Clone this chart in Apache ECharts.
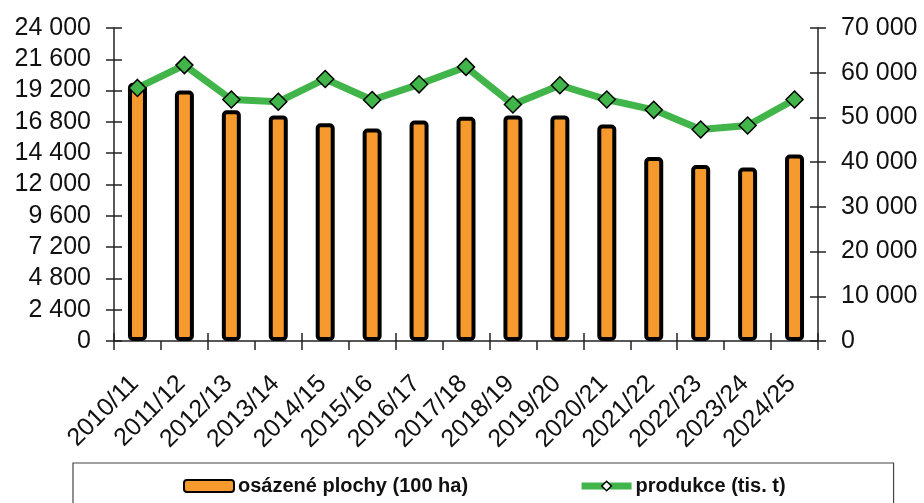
<!DOCTYPE html>
<html>
<head>
<meta charset="utf-8">
<script src="https://cdn.jsdelivr.net/npm/echarts@6/dist/echarts.min.js"></script>
<style>html,body{margin:0;padding:0;background:#fff;}#c{width:924px;height:503px;}</style>
</head>
<body>
<div id="c"></div>
<script>
const categories = ['2010/11','2011/12','2012/13','2013/14','2014/15','2015/16','2016/17','2017/18','2018/19','2019/20','2020/21','2021/22','2022/23','2023/24','2024/25'];
const plochy = [19800, 19200, 17700, 17300, 16700, 16300, 16900, 17200, 17300, 17300, 16600, 14100, 13500, 13300, 14300];
const produkce = [56600, 61700, 54000, 53500, 58600, 53900, 57400, 61300, 52900, 57200, 54000, 51700, 47300, 48200, 54000];
const seriesNames = ['osázené plochy (100 ha)', 'produkce (tis. t)'];
const leftAxis = {min: 0, max: 24000, interval: 2400};
const rightAxis = {min: 0, max: 70000, interval: 10000};

const FONT = 'Liberation Sans, Arial, sans-serif';
const fmt = v => String(v).replace(/\B(?=(\d{3})+(?!\d))/g, ' ');
const lineCol = '#222';

const chart = echarts.init(document.getElementById('c'));
chart.setOption({
  animation: false,
  backgroundColor: '#fff',
  grid: {left: 114, right: 106, top: 28, bottom: 162, containLabel: false},
  legend: {
    data: [
      {name: seriesNames[0]},
      {name: seriesNames[1], lineStyle: {width: 7}, itemStyle: {color: '#fff', borderColor: '#000', borderWidth: 1.5}}
    ],
    left: 73,
    top: 463,
    padding: [13, 108, 40, 110],
    itemGap: 110,
    itemWidth: 50,
    itemHeight: 12,
    borderColor: '#444',
    borderWidth: 1.2,
    textStyle: {fontFamily: FONT, fontSize: 20, fontWeight: 'bold', color: '#111', padding: [0, 0, 0, -1]}
  },
  xAxis: [
    {
      type: 'category', data: categories, position: 'bottom', boundaryGap: true,
      axisLine: {lineStyle: {color: lineCol, width: 1.5}},
      axisTick: {show: true, length: 9, lineStyle: {color: lineCol, width: 1.5}},
      axisLabel: {rotate: 45, interval: 0, margin: 36, padding: [0, 4, 0, 0], fontFamily: FONT, fontSize: 25, color: '#111'}
    },
    {
      type: 'category', data: categories, position: 'bottom', boundaryGap: true,
      axisLine: {show: false},
      axisTick: {show: true, inside: true, length: 8, lineStyle: {color: lineCol, width: 1.5}},
      axisLabel: {show: false}
    }
  ],
  yAxis: [
    {
      type: 'value', position: 'left', min: leftAxis.min, max: leftAxis.max, interval: leftAxis.interval,
      splitLine: {show: false},
      axisLine: {show: true, lineStyle: {color: lineCol, width: 1.5}},
      axisTick: {show: true, length: 8, lineStyle: {color: lineCol, width: 1.5}},
      axisLabel: {formatter: fmt, margin: 23, fontFamily: FONT, fontSize: 25, color: '#111'}
    },
    {
      type: 'value', position: 'right', min: rightAxis.min, max: rightAxis.max, interval: rightAxis.interval,
      splitLine: {show: false},
      axisLine: {show: true, lineStyle: {color: lineCol, width: 1.5}},
      axisTick: {show: true, length: 8, lineStyle: {color: lineCol, width: 1.5}},
      axisLabel: {formatter: fmt, margin: 23, fontFamily: FONT, fontSize: 25, color: '#111'}
    },
    {
      type: 'value', position: 'left', min: leftAxis.min, max: leftAxis.max, interval: leftAxis.interval,
      splitLine: {show: false}, axisLine: {show: false}, axisLabel: {show: false},
      axisTick: {show: true, inside: true, length: 8, lineStyle: {color: lineCol, width: 1.5}}
    },
    {
      type: 'value', position: 'right', min: rightAxis.min, max: rightAxis.max, interval: rightAxis.interval,
      splitLine: {show: false}, axisLine: {show: false}, axisLabel: {show: false},
      axisTick: {show: true, inside: true, length: 8, lineStyle: {color: lineCol, width: 1.5}}
    }
  ],
  series: [
    {
      name: seriesNames[0], type: 'bar', data: plochy, xAxisIndex: 0, yAxisIndex: 0,
      barWidth: 19,
      itemStyle: {color: '#F69A2D', borderColor: '#000', borderWidth: 4, borderRadius: 3},
      z: 2
    },
    {
      name: seriesNames[1], type: 'line', data: produkce, xAxisIndex: 0, yAxisIndex: 1,
      symbol: 'diamond', symbolSize: 17,
      lineStyle: {color: '#41B54A', width: 7},
      itemStyle: {color: '#41B54A', borderColor: '#000', borderWidth: 1.5},
      z: 5
    }
  ]
});
</script>
</body>
</html>
